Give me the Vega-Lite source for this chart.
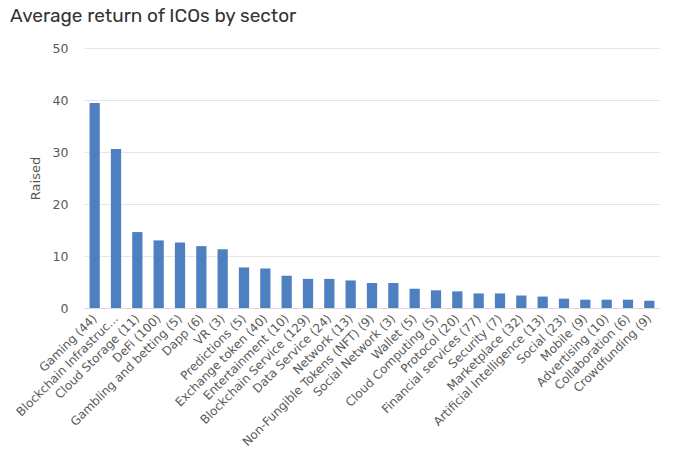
{
  "$schema": "https://vega.github.io/schema/vega-lite/v6.json",
  "width": 576,
  "height": 260,
  "autosize": {"type": "none"},
  "padding": {"left": 84, "top": 48, "right": 20, "bottom": 147},
  "background": "white",
  "title": {
    "text": "Average return of ICOs by sector",
    "anchor": "start",
    "frame": "group",
    "dx": -74,
    "offset": 16,
    "font": "Rubik, Inter, Roboto, sans-serif",
    "fontSize": 19,
    "fontWeight": "normal",
    "color": "#333333"
  },
  "data": {
    "values": [
      {"sector": "Gaming (44)", "raised": 39.4},
      {"sector": "Blockchain Infrastruc...", "raised": 30.6},
      {"sector": "Cloud Storage (11)", "raised": 14.6},
      {"sector": "DeFi (100)", "raised": 13.0},
      {"sector": "Gambling and betting (5)", "raised": 12.6},
      {"sector": "Dapp (6)", "raised": 11.9},
      {"sector": "VR (3)", "raised": 11.3},
      {"sector": "Predictions (5)", "raised": 7.8},
      {"sector": "Exchange token (40)", "raised": 7.6},
      {"sector": "Entertainment (10)", "raised": 6.2},
      {"sector": "Blockchain Service (129)", "raised": 5.6},
      {"sector": "Data Service (24)", "raised": 5.6},
      {"sector": "Network (13)", "raised": 5.3},
      {"sector": "Non-Fungible Tokens (NFT) (9)", "raised": 4.8},
      {"sector": "Social Network (3)", "raised": 4.8},
      {"sector": "Wallet (5)", "raised": 3.7},
      {"sector": "Cloud Computing (5)", "raised": 3.4},
      {"sector": "Protocol (20)", "raised": 3.2},
      {"sector": "Financial services (77)", "raised": 2.8},
      {"sector": "Security (7)", "raised": 2.8},
      {"sector": "Marketplace (32)", "raised": 2.4},
      {"sector": "Artificial Intelligence (13)", "raised": 2.2},
      {"sector": "Social (23)", "raised": 1.8},
      {"sector": "Mobile (9)", "raised": 1.6},
      {"sector": "Advertising (10)", "raised": 1.6},
      {"sector": "Collaboration (6)", "raised": 1.6},
      {"sector": "Crowdfunding (9)", "raised": 1.4}
    ]
  },
  "mark": {"type": "bar", "color": "#4e7fc1"},
  "encoding": {
    "x": {
      "field": "sector",
      "type": "nominal",
      "sort": null,
      "scale": {"paddingInner": 0.52, "paddingOuter": 0.26},
      "axis": {
        "title": null,
        "labelAngle": -45,
        "labelAlign": "right",
        "labelBaseline": "middle",
        "labelPadding": 8,
        "labelFont": "DejaVu Sans",
        "labelFontSize": 12,
        "labelColor": "#595959",
        "labelLimit": 300,
        "ticks": false,
        "domain": true,
        "domainColor": "#d9d9d9",
        "grid": false
      }
    },
    "y": {
      "field": "raised",
      "type": "quantitative",
      "scale": {"domain": [0, 50]},
      "axis": {
        "title": "Raised",
        "values": [0, 10, 20, 30, 40, 50],
        "titleFont": "DejaVu Sans",
        "titleFontSize": 13,
        "titleFontWeight": "normal",
        "titleColor": "#595959",
        "titlePadding": 10,
        "labelFont": "DejaVu Sans",
        "labelFontSize": 12.5,
        "labelColor": "#595959",
        "labelPadding": 16,
        "ticks": false,
        "domain": false,
        "gridColor": "#e6e6e6",
        "gridWidth": 1
      }
    }
  },
  "config": {"view": {"stroke": null}}
}
